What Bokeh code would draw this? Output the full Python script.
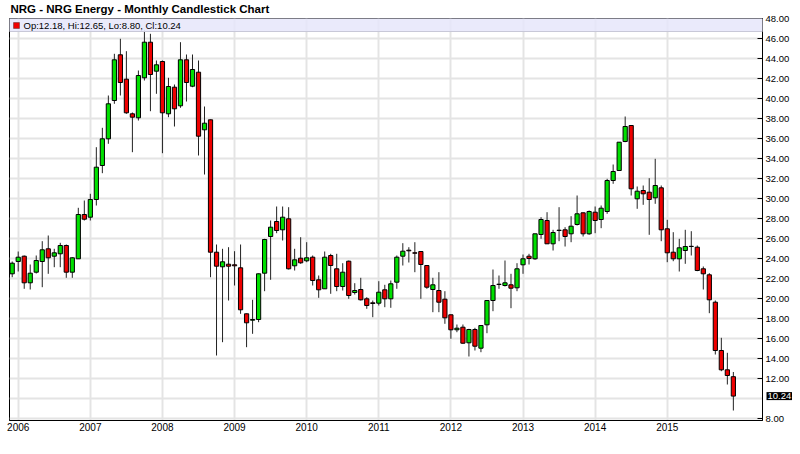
import pandas as pd
from bokeh.plotting import figure
from bokeh.models import (Range1d, LinearAxis, FixedTicker, NumeralTickFormatter,
                          BoxAnnotation, Label, ColumnDataSource)
from bokeh.embed import file_html
from bokeh.resources import INLINE

# ---- data (monthly OHLC, Dec 2005 .. Dec 2015) ----
months = [d.strftime("%Y-%m") for d in pd.date_range("2005-12-01", "2015-12-01", freq="MS")]

opens = [22.47, 23.70, 24.23, 21.57, 22.63, 23.70, 24.97, 24.23, 24.47, 25.30, 22.63, 23.97,
         28.40, 28.13, 29.90, 33.30, 35.97, 39.80, 44.37, 41.93, 38.47, 38.07, 42.07, 45.63,
         42.73, 43.70, 38.47, 41.13, 39.27, 43.87, 41.23, 42.63, 36.87, 37.87, 24.63, 23.17,
         23.43, 23.37, 23.07, 18.47, 17.83, 17.90, 22.53, 26.20, 27.70, 26.87, 27.97, 23.27,
         24.03, 23.77, 24.13, 21.87, 20.97, 24.30, 22.97, 21.20, 23.73, 20.60, 20.90, 19.97,
         19.57, 19.53, 20.87, 19.97, 21.63, 24.23, 24.83, 24.57, 24.70, 23.30, 20.90, 20.80,
         19.93, 18.37, 16.87, 17.13, 15.57, 16.90, 15.03, 17.37, 19.80, 21.40, 21.30, 21.37,
         21.07, 23.37, 24.23, 23.97, 26.40, 27.80, 25.47, 26.80, 26.87, 26.47, 27.40, 28.57,
         26.47, 28.63, 27.90, 28.70, 31.80, 32.80, 35.70, 37.30, 29.97, 30.80, 30.63, 30.07,
         31.07, 26.97, 24.63, 23.97, 24.80, 25.20, 25.13, 22.97, 22.37, 19.63, 14.80, 12.87,
         12.18]
highs = [23.70, 24.70, 24.30, 23.40, 24.30, 25.73, 26.30, 24.97, 25.57, 25.40, 24.13, 29.07,
         29.80, 30.47, 35.13, 37.07, 40.30, 44.47, 45.97, 44.73, 38.60, 42.80, 46.80, 46.47,
         43.80, 43.80, 42.07, 41.40, 45.63, 44.40, 44.40, 43.80, 39.20, 37.90, 25.40, 24.97,
         25.13, 24.73, 25.40, 18.50, 19.87, 22.50, 25.97, 27.80, 29.20, 29.20, 29.13, 24.97,
         26.13, 25.63, 24.30, 22.30, 24.70, 24.47, 24.47, 23.53, 23.80, 21.53, 22.07, 20.13,
         19.80, 21.73, 21.37, 21.80, 24.30, 25.53, 25.13, 25.63, 24.75, 23.35, 22.07, 22.63,
         20.73, 18.40, 17.40, 17.40, 16.97, 17.07, 17.30, 19.80, 22.90, 22.30, 23.80, 22.47,
         23.53, 24.40, 24.47, 26.47, 28.13, 28.63, 26.87, 29.13, 27.13, 28.23, 30.30, 28.60,
         28.80, 29.20, 29.30, 31.97, 33.40, 35.65, 38.20, 37.35, 31.20, 31.30, 32.03, 33.97,
         31.30, 27.87, 26.63, 25.97, 26.87, 26.73, 25.30, 23.20, 22.53, 19.80, 16.07, 14.57,
         12.65]
lows = [22.13, 22.70, 20.97, 20.90, 22.50, 21.13, 22.47, 23.13, 23.13, 22.07, 22.07, 23.97,
        27.80, 27.80, 29.30, 32.53, 35.47, 39.47, 40.30, 38.47, 34.63, 37.80, 41.80, 38.73,
        40.47, 34.53, 38.13, 37.20, 39.07, 39.70, 41.13, 34.30, 32.40, 22.13, 14.30, 15.63,
        19.80, 21.30, 18.47, 15.13, 16.47, 17.63, 20.73, 21.87, 26.53, 25.80, 22.90, 22.80,
        23.47, 23.63, 21.30, 20.07, 20.97, 20.47, 20.73, 20.80, 19.97, 20.40, 19.80, 18.97,
        18.13, 19.30, 19.13, 19.07, 20.97, 23.30, 23.60, 22.63, 19.97, 20.97, 18.63, 18.63,
        17.47, 15.97, 16.63, 15.47, 14.20, 14.80, 14.63, 16.53, 18.73, 20.97, 21.20, 19.03,
        20.73, 22.47, 23.40, 23.87, 25.97, 25.47, 24.80, 25.73, 25.20, 25.63, 27.30, 26.20,
        26.37, 26.53, 27.03, 28.47, 31.47, 32.75, 35.63, 30.30, 28.97, 29.37, 26.37, 29.47,
        25.73, 23.63, 23.73, 22.70, 23.47, 24.30, 22.73, 20.90, 18.53, 14.40, 12.73, 11.40,
        8.80]
closes = [23.53, 24.13, 21.57, 22.53, 23.80, 24.87, 24.07, 24.57, 25.30, 22.63, 24.07, 28.40,
          27.93, 29.90, 33.13, 35.97, 39.47, 43.87, 41.60, 38.57, 38.13, 42.30, 45.63, 42.40,
          43.37, 38.57, 41.20, 38.97, 43.87, 41.60, 42.90, 36.23, 37.53, 24.63, 23.23, 23.67,
          23.23, 23.27, 18.87, 17.57, 17.90, 22.47, 25.90, 27.13, 26.80, 28.13, 22.97, 23.87,
          23.57, 24.07, 21.80, 20.87, 24.13, 23.30, 21.20, 22.63, 20.30, 20.80, 19.87, 19.30,
          19.50, 20.63, 19.97, 21.47, 24.13, 24.73, 24.77, 24.53, 23.40, 21.13, 21.37, 19.63,
          18.07, 16.87, 17.03, 15.53, 16.90, 15.23, 17.30, 19.80, 21.30, 21.43, 21.57, 21.03,
          22.97, 23.97, 24.00, 26.47, 27.90, 25.47, 26.60, 26.83, 26.20, 27.23, 28.47, 26.47,
          28.70, 27.80, 29.03, 31.80, 32.70, 35.63, 37.20, 30.97, 30.73, 30.47, 29.90, 31.30,
          26.87, 24.57, 23.97, 25.07, 25.20, 25.22, 22.80, 22.47, 19.87, 14.80, 12.87, 12.30,
          10.24]

year_labels = ["2006", "2007", "2008", "2009", "2010", "2011", "2012", "2013", "2014", "2015"]
price_ticks = [8, 10, 12, 14, 16, 18, 20, 22, 24, 26, 28, 30, 32, 34, 36, 38, 40, 42, 44, 46, 48]

title_text = "NRG - NRG Energy - Monthly Candlestick Chart"

# ---- derived ----
xs = list(range(len(months)))
up_color, down_color = "#00e000", "#ee0000"
src = ColumnDataSource(dict(
    x=xs, o=opens, h=highs, l=lows, c=closes,
    top=[max(a, b) for a, b in zip(opens, closes)],
    bot=[min(a, b) for a, b in zip(opens, closes)],
    col=[up_color if c >= o else down_color for o, c in zip(opens, closes)],
))
year_pos = [months.index(y + "-01") for y in year_labels]
last = len(months) - 1

FONT = "Liberation Sans"
X0, X1 = -0.45, len(months) + 3.85
Y0, Y1 = 7.8, 48.0
PX_PER_X = 753 / (X1 - X0)
PX_PER_Y = 402 / (Y1 - Y0)

p = figure(frame_width=753, frame_height=402, output_backend="svg", toolbar_location=None,
           x_range=Range1d(X0, X1), y_range=Range1d(Y0, Y1),
           x_axis_location=None, y_axis_location=None,
           min_border_left=9, min_border_top=18, min_border_right=0, min_border_bottom=0,
           background_fill_color="white", border_fill_color="white")
p.outline_line_color = "#000000"
p.outline_line_width = 1

# axes
yax = LinearAxis(ticker=FixedTicker(ticks=[t for t in price_ticks if abs(t - closes[last]) > 0.9]),
                 formatter=NumeralTickFormatter(format="0.00"))
yax.major_tick_in = 5
yax.major_tick_out = 0
yax.minor_tick_line_color = None
yax.major_label_standoff = 3
yax.major_label_text_font = FONT
yax.major_label_text_font_size = "9.5px"
yax.major_label_text_color = "#000000"
yax.axis_line_color = "#000000"
yax.major_tick_line_color = "#000000"
p.add_layout(yax, "right")

xax = LinearAxis(ticker=FixedTicker(ticks=year_pos),
                 major_label_overrides={pos: lab for pos, lab in zip(year_pos, year_labels)})
xax.major_tick_in = 0
xax.major_tick_out = 0
xax.minor_tick_line_color = None
xax.major_label_standoff = 2
xax.major_label_text_font = FONT
xax.major_label_text_font_size = "10px"
xax.major_label_text_color = "#000000"
xax.axis_line_color = "#000000"
p.add_layout(xax, "below")

# grids
p.xgrid.ticker = FixedTicker(ticks=year_pos)
p.ygrid.ticker = FixedTicker(ticks=price_ticks)
for g in (p.xgrid, p.ygrid):
    g.grid_line_color = "#e4e4e4"
    g.grid_line_width = 2

# legend band
band = BoxAnnotation(top=Y1, bottom=46.7, fill_color="#e6e6fa", fill_alpha=0.85,
                     line_color="#c8c8d8", line_alpha=1.0, line_width=1)
p.add_layout(band)

# candles
p.segment(x0="x", y0="l", x1="x", y1="h", source=src, line_color="#222222", line_width=1)
p.vbar(x="x", width=0.7, top="top", bottom="bot", source=src,
       fill_color="col", line_color="#000000", line_width=1)

# legend swatch + text
sw_col = up_color if closes[last] >= opens[last] else down_color
p.add_layout(BoxAnnotation(left=X0 + 4 / PX_PER_X, right=X0 + 10 / PX_PER_X,
                           top=Y1 - 4 / PX_PER_Y, bottom=Y1 - 10 / PX_PER_Y,
                           fill_color=sw_col, fill_alpha=1, line_color="#000000", line_width=1))
legend_text = "Op:%.2f, Hi:%.2f, Lo:%.2f, Cl:%.2f" % (opens[last], highs[last], lows[last], closes[last])
p.add_layout(Label(x=X0 + 14 / PX_PER_X, y=Y1 - 7 / PX_PER_Y, text=legend_text,
                   text_font=FONT, text_font_size="9.5px",
                   text_baseline="middle", text_align="left", text_color="#000000"))

# title (in the top side panel so it is not clipped to the frame)
p.add_layout(Label(x=X0 + 1 / PX_PER_X, y=Y1 + 16 / PX_PER_Y, text=title_text,
                   text_font=FONT, text_font_size="11.5px", text_font_style="bold",
                   text_baseline="top", text_align="left", text_color="#000000"), "above")

# current price tag on the price axis
p.add_layout(Label(x=X1 + 4 / PX_PER_X, y=closes[last],
                   text="%.2f" % closes[last], text_font=FONT, text_font_size="9.5px",
                   text_baseline="middle", text_align="left", text_color="#ffffff",
                   background_fill_color="#000000", background_fill_alpha=1.0,
                   padding=1), "below")

open("out.html", "w").write(file_html(p, INLINE))
